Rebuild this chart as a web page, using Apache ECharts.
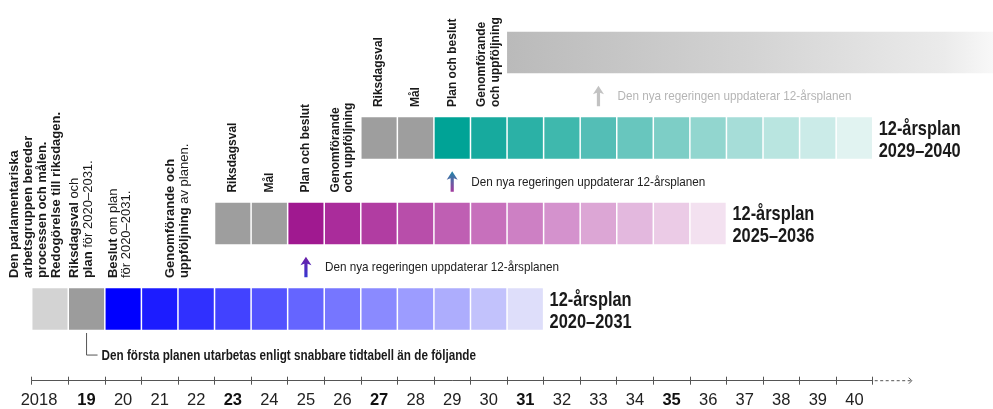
<!DOCTYPE html>
<html><head><meta charset="utf-8">
<script src="https://cdn.jsdelivr.net/npm/echarts@6/dist/echarts.min.js"></script>
<style>html,body{margin:0;padding:0;background:#fff}#c{width:993px;height:409px}</style>
</head><body><div id="c"></div>
<script>
// ---------- data ----------
const yearLabels = ['2018','19','20','21','22','23','24','25','26','27','28','29','30','31','32','33','34','35','36','37','38','39','40'];
const boldYearLabels = ['19','23','27','31','35'];

// each plan row: year of first cell and one colour per yearly cell
const planFirstYear = [2018, 2023, 2027];
const bluePlanColors   = ['#d3d3d3','#9c9c9c','#0000ff','#1c1cff','#3030ff','#4242ff','#5353ff','#6565ff','#7676ff','#8a8aff','#9c9cff','#adadfd','#c2c2fc','#dedefa'];
const purplePlanColors = ['#9e9e9e','#9e9e9e','#a01990','#aa2c9b','#b13da2','#b84eaa','#bf5fb3','#c770bc','#cd80c4','#d492cd','#dca6d5','#e3b8de','#ebcbe6','#f3e1f0'];
const tealPlanColors   = ['#9e9e9e','#9e9e9e','#00a396','#17aa9e','#2bb1a6','#3fb8ad','#54beb6','#68c6be','#7dcec6','#92d6cf','#a6ddd8','#b9e5e0','#cbebe8','#e1f3f1'];
const planLabels = ['12-årsplan\n2020–2031', '12-årsplan\n2025–2036', '12-årsplan\n2029–2040'];

// next plan, fading out
const futurePlanStart = 2031;
const futurePlanEnd = 2044.3;
const futurePlanRow = 3;

// "the new government updates the plan" arrows
const updateArrowYear = [2025, 2029, 2033];
const updateArrowRow = [1, 2, 3];
const updateArrowTop = ['#6d1fa6', '#1c86a8', '#c2c2c2'];
const updateArrowBottom = ['#3636d2', '#a33a9e', '#c2c2c2'];
const updateTextColor = ['#222222', '#222222', '#b5b5b5'];
const updateText = 'Den nya regeringen uppdaterar 12-årsplanen';

// vertical phase labels
const phaseLabelYear = [2018.10, 2019.37, 2020.41, 2021.99, 2023.5, 2024.5, 2025.5, 2026.5, 2027.5, 2028.5, 2029.5, 2030.5];
const phaseLabelRow  = [0, 0, 0, 0, 1, 1, 1, 1, 2, 2, 2, 2];
const phaseLabelText = [
  '{b|Den parlamentariska}\n{b|arbetsgruppen bereder}\n{b|processen och målen.}\n{b|Redogörelse till riksdagen.}',
  '{b|Riksdagsval}{r| och}\n{b|plan}{r| för 2020–2031.}',
  '{b|Beslut}{r| om plan}\n{r|för 2020–2031.}',
  '{b|Genomförande och}\n{b|uppföljning}{r| av planen.}',
  '{s|Riksdagsval}', '{s|Mål}', '{s|Plan och beslut}', '{s|Genomförande}\n{s|och uppföljning}',
  '{s|Riksdagsval}', '{s|Mål}', '{s|Plan och beslut}', '{s|Genomförande}\n{s|och uppföljning}'
];

// note under the first plan
const noteYear = 2019.5;
const noteText = 'Den första planen utarbetas enligt snabbare tidtabell än de följande';

// axis continuation
const axisEndYear = 2041;
const axisArrowEnd = 2042.07;

// ---------- layout / style ----------
const ROW_BASE = 0.595, ROW_H = 0.485;
const SANS = '"Liberation Sans",Arial,sans-serif';
const AX = '#555555';

const cellData = [];
[bluePlanColors, purplePlanColors, tealPlanColors].forEach((cols, row) => {
  cols.forEach((c, i) => cellData.push({ value: [planFirstYear[row] + i, row], itemStyle: { color: c } }));
});

const chart = echarts.init(document.getElementById('c'));
const base = { type: 'custom', xAxisIndex: 1, yAxisIndex: 0, silent: true, clip: false, animation: false };

chart.setOption({
  animation: false,
  grid: { left: 31.7, right: 120.3, top: 0, bottom: 28.3 },
  xAxis: [
    {
      type: 'category', data: yearLabels, position: 'bottom',
      axisLine: { lineStyle: { color: AX, width: 1 } },
      axisTick: { show: true, inside: false, length: 4, interval: 0, lineStyle: { color: AX } },
      axisLabel: {
        interval: 0, margin: 11, color: '#222', fontFamily: SANS, fontSize: 16.5,
        formatter: v => v === '2018' ? '{f|2018}' : (boldYearLabels.includes(v) ? '{b|' + v + '}' : '{n|' + v + '}'),
        rich: {
          f: { fontFamily: SANS, fontSize: 16.5, color: '#222', padding: [0, 22, 0, 0] },
          n: { fontFamily: SANS, fontSize: 16.5, color: '#222' },
          b: { fontFamily: SANS, fontSize: 16.5, color: '#111', fontWeight: 'bold' }
        }
      },
      splitLine: { show: false }
    },
    {
      type: 'value', min: 2018, max: 2041, interval: 1, position: 'bottom',
      axisLine: { show: false },
      axisTick: { show: true, inside: true, length: 4, lineStyle: { color: AX } },
      axisLabel: { show: false }, splitLine: { show: false }
    }
  ],
  yAxis: { type: 'value', min: 0, max: 4.4526, show: false },
  series: [
    Object.assign({}, base, {
      name: 'cells', data: cellData,
      renderItem: (p, api) => {
        const yr = api.value(0), r = api.value(1);
        const a = api.coord([yr, r + ROW_BASE + ROW_H]), b = api.coord([yr + 1, r + ROW_BASE]);
        return { type: 'rect', shape: { x: a[0] + 0.75, y: a[1], width: b[0] - a[0] - 1.5, height: b[1] - a[1] },
          style: { fill: api.visual('color') } };
      }
    }),
    Object.assign({}, base, {
      name: 'future', data: [[futurePlanStart, futurePlanEnd, futurePlanRow]],
      renderItem: (p, api) => {
        const r = api.value(2);
        const a = api.coord([api.value(0), r + ROW_BASE + ROW_H]), b = api.coord([api.value(1), r + ROW_BASE]);
        return { type: 'rect', shape: { x: a[0], y: a[1], width: b[0] - a[0], height: b[1] - a[1] },
          style: { fill: new echarts.graphic.LinearGradient(0, 0, 1, 0, [
            { offset: 0, color: '#bababa' }, { offset: 0.5, color: '#d3d3d3' }, { offset: 0.9, color: '#ebebeb' }, { offset: 1, color: '#f8f8f8' }]) } };
      }
    }),
    Object.assign({}, base, {
      name: 'arrows', data: updateArrowYear.map((y, i) => [y, updateArrowRow[i]]),
      renderItem: (p, api) => {
        const i = p.dataIndex, r = api.value(1);
        const top = api.coord([api.value(0) + 0.5, r + 0.45]), bot = api.coord([api.value(0) + 0.5, r + 0.21]);
        const cx = top[0], t = top[1], b = bot[1];
        const pts = [[cx, t], [cx + 5.5, t + 8.5], [cx + 1.6, t + 7], [cx + 1.6, b], [cx - 1.6, b], [cx - 1.6, t + 7], [cx - 5.5, t + 8.5]];
        const mid = api.coord([api.value(0) + 0.5, r + 0.32]);
        return { type: 'group', children: [
          { type: 'polygon', shape: { points: pts }, style: { fill: new echarts.graphic.LinearGradient(0, 0, 0, 1, [
            { offset: 0, color: updateArrowTop[i] }, { offset: 1, color: updateArrowBottom[i] }]) } },
          { type: 'text', x: cx + 19, y: mid[1], scaleX: 0.9, style: { text: updateText, fill: updateTextColor[i], font: '13px ' + SANS, align: 'left', verticalAlign: 'middle' } }
        ] };
      }
    }),
    Object.assign({}, base, {
      name: 'phases', data: phaseLabelYear.map((y, i) => [y, phaseLabelRow[i]]),
      renderItem: (p, api) => {
        const pt = api.coord([api.value(0), api.value(1) + 1.2]);
        return { type: 'text', x: pt[0], y: pt[1], rotation: Math.PI / 2,
          style: { text: phaseLabelText[p.dataIndex], align: 'left', verticalAlign: 'middle', fill: '#1a1a1a',
            rich: {
              b: { fontFamily: SANS, fontSize: 13, fontWeight: 'bold', lineHeight: 13.8, fill: '#1a1a1a' },
              r: { fontFamily: SANS, fontSize: 13, fontWeight: 'normal', lineHeight: 13.8, fill: '#1a1a1a' },
              s: { fontFamily: SANS, fontSize: 12, fontWeight: 'bold', lineHeight: 13.3, fill: '#1a1a1a' }
            } } };
      }
    }),
    Object.assign({}, base, {
      name: 'planLabels', data: planFirstYear.map((y, i) => [y + bluePlanColors.length, i]),
      renderItem: (p, api) => {
        const pt = api.coord([api.value(0), api.value(1) + 0.815]);
        return { type: 'text', x: pt[0] + 6, y: pt[1], scaleX: 0.78, style: { text: planLabels[p.dataIndex], fill: '#1a1a1a',
          font: 'bold 21px ' + SANS, lineHeight: 22, align: 'left', verticalAlign: 'middle' } };
      }
    }),
    Object.assign({}, base, {
      name: 'note', data: [[noteYear, 0]],
      renderItem: (p, api) => {
        const a = api.coord([api.value(0), 0.558]), b = api.coord([api.value(0), 0.30]);
        return { type: 'group', children: [
          { type: 'polyline', shape: { points: [[a[0], a[1]], [b[0], b[1]], [b[0] + 11, b[1]]] }, style: { stroke: AX, lineWidth: 1, fill: null } },
          { type: 'text', x: b[0] + 15, y: b[1] + 1, scaleX: 0.78, style: { text: noteText, fill: '#1a1a1a', font: 'bold 15px ' + SANS, align: 'left', verticalAlign: 'middle' } }
        ] };
      }
    }),
    Object.assign({}, base, {
      name: 'axisArrow', data: [[axisEndYear, axisArrowEnd]],
      renderItem: (p, api) => {
        const a = api.coord([api.value(0), 0]), b = api.coord([api.value(1), 0]);
        return { type: 'group', children: [
          { type: 'line', shape: { x1: a[0] + 2, y1: a[1], x2: b[0] - 1, y2: b[1] }, style: { stroke: AX, lineWidth: 1, lineDash: [3, 2.5] } },
          { type: 'polyline', shape: { points: [[b[0] - 3, b[1] - 3], [b[0], b[1]], [b[0] - 3, b[1] + 3]] }, style: { stroke: AX, lineWidth: 1, fill: null } }
        ] };
      }
    })
  ]
});
</script></body></html>
